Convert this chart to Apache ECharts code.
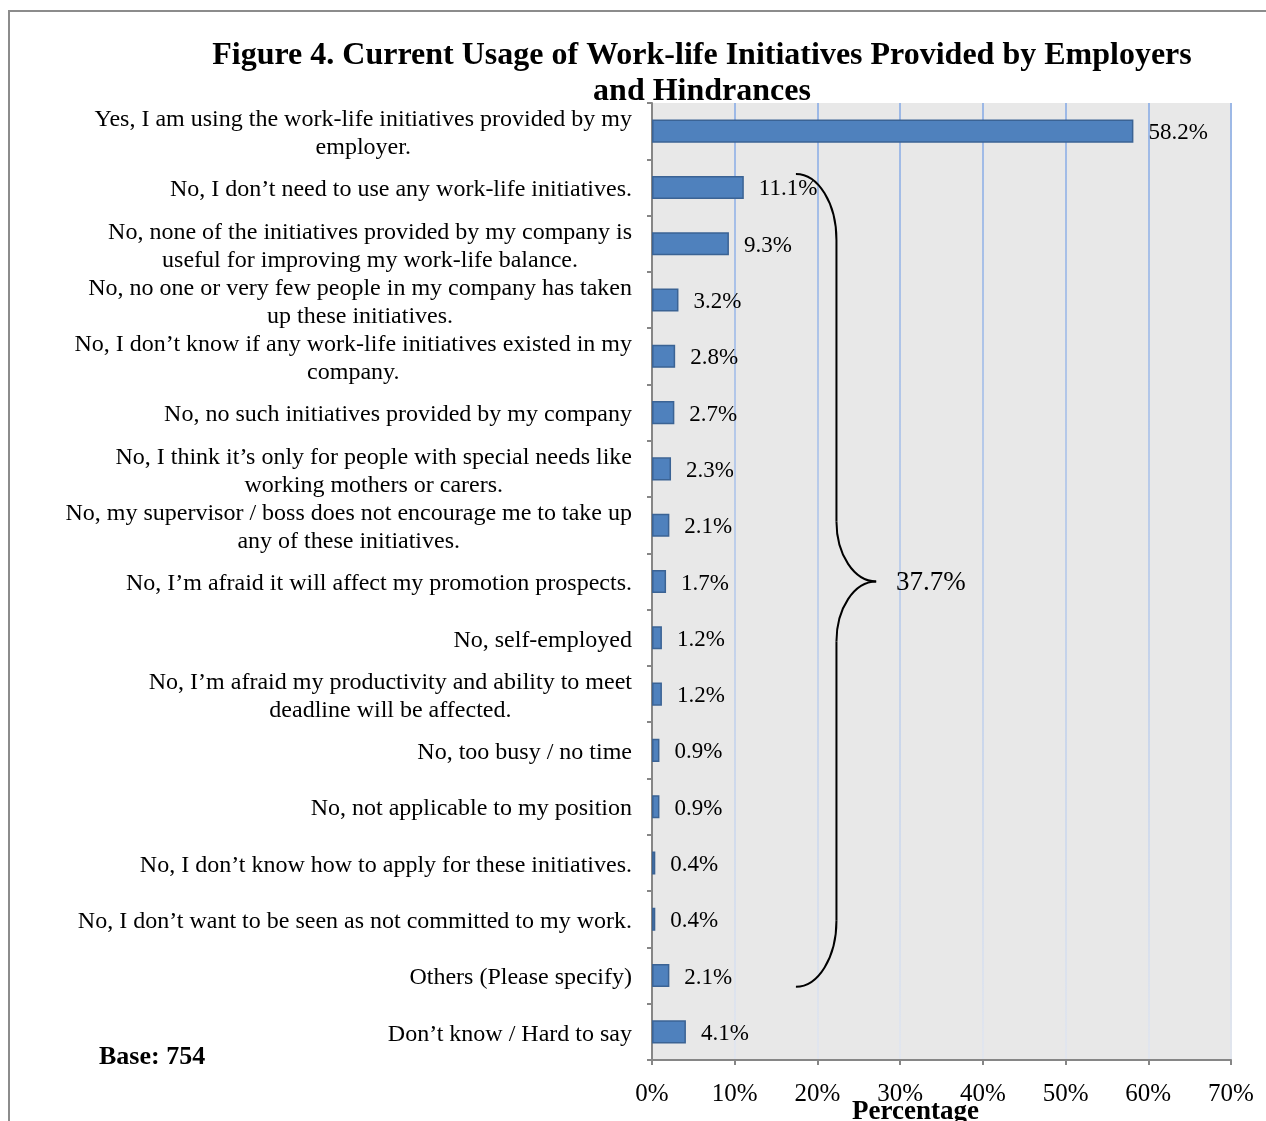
<!DOCTYPE html>
<html>
<head>
<meta charset="utf-8">
<script src="https://cdn.jsdelivr.net/npm/echarts@6/dist/echarts.min.js"></script>
<style>
  html, body { margin: 0; padding: 0; background: #ffffff; }
  #chart { width: 1266px; height: 1121px; }
</style>
</head>
<body>
<div id="chart"></div>
<script>
// Survey answers, listed top to bottom
const categories = [
  'Yes, I am using the work-life initiatives provided by my\nemployer.',
  'No, I don\u2019t need to use any work-life initiatives.',
  'No, none of the initiatives provided by my company is\nuseful for improving my work-life balance.',
  'No, no one or very few people in my company has taken\nup these initiatives.',
  'No, I don\u2019t know if any work-life initiatives existed in my\ncompany.',
  'No, no such initiatives provided by my company',
  'No, I think it\u2019s only for people with special needs like\nworking mothers or carers.',
  'No, my supervisor / boss does not encourage me to take up\nany of these initiatives.',
  'No, I\u2019m afraid it will affect my promotion prospects.',
  'No, self-employed',
  'No, I\u2019m afraid my productivity and ability to meet\ndeadline will be affected.',
  'No, too busy / no time',
  'No, not applicable to my position',
  'No, I don\u2019t know how to apply for these initiatives.',
  'No, I don\u2019t want to be seen as not committed to my work.',
  'Others (Please specify)',
  'Don\u2019t know / Hard to say'
];

// Share of respondents (%)
const percentages = [58.2, 11.1, 9.3, 3.2, 2.8, 2.7, 2.3, 2.1, 1.7, 1.2, 1.2, 0.9, 0.9, 0.4, 0.4, 2.1, 4.1];

// Combined share of the "No" answers, shown beside the brace
const noGroupLabel = '37.7%';
const baseLabel = 'Base: 754';

const SERIF = '"Liberation Serif", "Times New Roman", serif';

const chart = echarts.init(document.getElementById('chart'), null, { renderer: 'canvas' });

const option = {
  backgroundColor: '#ffffff',
  animation: false,
  title: {
    text: 'Figure 4. Current Usage of Work-life Initiatives Provided by Employers\nand Hindrances',
    left: 697,
    top: 33,
    textAlign: 'center',
    textStyle: {
      fontFamily: SERIF,
      fontWeight: 'bold',
      fontSize: 32,
      lineHeight: 36,
      color: '#000000'
    }
  },
  grid: {
    left: 652,
    right: 35,
    top: 103,
    bottom: 61,
    containLabel: false,
    outerBoundsMode: 'none',
    show: true,
    backgroundColor: '#e8e8e8',
    borderWidth: 0
  },
  xAxis: {
    type: 'value',
    min: 0,
    max: 70,
    interval: 10,
    name: 'Percentage',
    nameLocation: 'middle',
    nameGap: 39,
    nameMoveOverlap: false,
    nameTextStyle: {
      fontFamily: SERIF,
      fontWeight: 'bold',
      fontSize: 27,
      color: '#000000',
      padding: [0, 52, 0, 0]
    },
    axisLine: { show: true, lineStyle: { color: '#868686', width: 2 } },
    axisTick: { show: true, length: 5, lineStyle: { color: '#868686', width: 2 } },
    axisLabel: {
      formatter: '{value}%',
      margin: 22,
      fontFamily: SERIF,
      fontSize: 25,
      color: '#000000'
    },
    splitLine: {
      show: true,
      lineStyle: {
        width: 2,
        color: new echarts.graphic.LinearGradient(0, 0, 0, 1, [
          { offset: 0, color: '#9cb8e6' },
          { offset: 1, color: '#e2e6ee' }
        ])
      }
    }
  },
  yAxis: {
    type: 'category',
    inverse: true,
    data: categories,
    axisLine: { show: true, lineStyle: { color: '#868686', width: 2 } },
    axisTick: { show: true, length: 5, lineStyle: { color: '#868686', width: 2 } },
    axisLabel: {
      interval: 0,
      margin: 20,
      padding: [5, 0, 0, 0],
      formatter: function (v) {
        return v.split('\n').map(function (s) { return '{c|' + s + '}'; }).join('\n');
      },
      rich: {
        c: {
          align: 'center',
          fontFamily: SERIF,
          fontSize: 24,
          lineHeight: 28,
          color: '#000000'
        }
      }
    },
    splitLine: { show: false }
  },
  series: [{
    type: 'bar',
    data: percentages,
    barWidth: '41%',
    itemStyle: {
      color: '#4f81bd',
      borderColor: '#3b6394',
      borderWidth: 1.5
    },
    label: {
      show: true,
      position: 'right',
      distance: 15,
      offset: [0, 2],
      formatter: function (p) { return p.value.toFixed(1) + '%'; },
      fontFamily: SERIF,
      fontSize: 23,
      color: '#000000'
    }
  }]
};

chart.setOption(option);

// Brace grouping the "No" answers, placed through the chart's own scales
function px(value, catPos) {
  const a = chart.convertToPixel({ gridIndex: 0 }, [value, 0]);
  const b = chart.convertToPixel({ gridIndex: 0 }, [value, 1]);
  return [a[0], a[1] + (b[1] - a[1]) * catPos];
}

function braceParts() {
  const top = px(17.4, 0.76);
  const bot = px(17.4, 15.2);
  const mid = px(27.1, 8.0);
  const x0 = top[0];
  const x1 = px(22.3, 0)[0];
  const x2 = mid[0];
  const yTop = top[1], yBot = bot[1], yMid = mid[1];
  const rx = x1 - x0, rx2 = x2 - x1;
  const rEnd = 66, rMid = 60;
  const k = 0.5523;
  const stroke = { stroke: '#000000', lineWidth: 2, fill: 'none' };
  const curve = function (x1_, y1_, c1x, c1y, c2x, c2y, x2_, y2_) {
    return {
      type: 'bezierCurve', silent: true, z: 50,
      shape: { x1: x1_, y1: y1_, cpx1: c1x, cpy1: c1y, cpx2: c2x, cpy2: c2y, x2: x2_, y2: y2_ },
      style: stroke
    };
  };
  const line = function (xa, ya, xb, yb) {
    return {
      type: 'line', silent: true, z: 50,
      shape: { x1: xa, y1: ya, x2: xb, y2: yb },
      style: stroke
    };
  };
  return [
    curve(x0, yTop, x0 + k * rx, yTop, x1, yTop + rEnd - k * rEnd, x1, yTop + rEnd),
    line(x1, yTop + rEnd, x1, yMid - rMid),
    curve(x1, yMid - rMid, x1, yMid - rMid + k * rMid, x2 - k * rx2, yMid, x2, yMid),
    curve(x2, yMid, x2 - k * rx2, yMid, x1, yMid + rMid - k * rMid, x1, yMid + rMid),
    line(x1, yMid + rMid, x1, yBot - rEnd),
    curve(x1, yBot - rEnd, x1, yBot - rEnd + k * rEnd, x0 + k * rx, yBot, x0, yBot)
  ];
}

const labelPos = px(29.5, 8.0);

chart.setOption({
  graphic: [
    {
      type: 'rect',
      silent: true,
      shape: { x: 9, y: 11, width: 1300, height: 1200 },
      style: { fill: 'none', stroke: '#8c8c8c', lineWidth: 2 },
      z: 100
    },
    {
      type: 'text',
      silent: true,
      x: labelPos[0],
      y: labelPos[1] + 1,
      style: {
        text: noGroupLabel,
        font: '27px ' + SERIF,
        fill: '#000000',
        align: 'left',
        verticalAlign: 'middle'
      },
      z: 50
    },
    {
      type: 'text',
      silent: true,
      x: 99,
      y: 1057,
      style: {
        text: baseLabel,
        font: 'bold 26px ' + SERIF,
        fill: '#000000',
        align: 'left',
        verticalAlign: 'middle'
      },
      z: 50
    }
  ].concat(braceParts())
});
</script>
</body>
</html>
